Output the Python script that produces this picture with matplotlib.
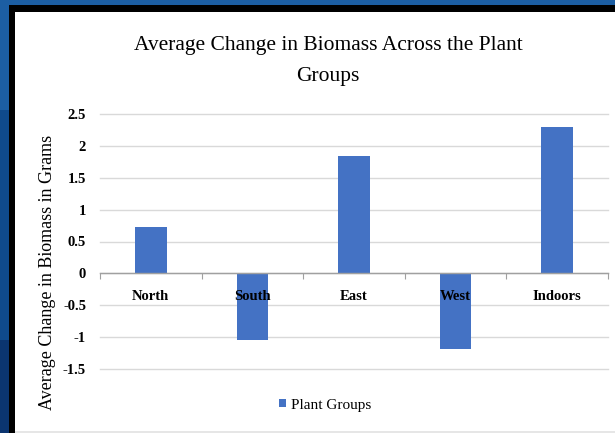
import matplotlib
matplotlib.use("Agg")
import matplotlib.pyplot as plt
from matplotlib.patches import Rectangle
import numpy as np

categories = ["North", "South", "East", "West", "Indoors"]
values = [0.72, -1.05, 1.84, -1.19, 2.30]
yticks = [-1.5, -1, -0.5, 0, 0.5, 1, 1.5, 2, 2.5]
ytick_labels = ["-1.5", "-1", "-0.5", "0", "0.5", "1", "1.5", "2", "2.5"]
title = "Average Change in Biomass Across the Plant\nGroups"
ylabel = "Average Change in Biomass in Grams"
legend_label = "Plant Groups"

W, H = 615, 433
fig = plt.figure(figsize=(W / 100, H / 100), dpi=100)
fig.patch.set_facecolor("#1c5ea3")

def px_rect(x0, y0, x1, y1, color, z):
    fig.patches.append(Rectangle((x0 / W, 1 - y1 / H), (x1 - x0) / W, (y1 - y0) / H,
                                 transform=fig.transFigure, facecolor=color,
                                 edgecolor="none", zorder=z))

px_rect(0, 110, 9, H, "#0f4a8c", -5)
px_rect(0, 340, 9, H, "#0b3570", -5)
px_rect(9, 5, W, H, "#000000", -5)
px_rect(15, 12, W, H, "#ffffff", -5)
px_rect(15, 431, W, H, "#e6e6e6", -5)

serif = ["Liberation Serif", "DejaVu Serif"]

ax = fig.add_axes([100 / W, 1 - 369 / H, (608 - 100) / W, (369 - 114) / H])
ax.set_zorder(5)
ax.set_facecolor("none")

x = np.arange(len(categories))
ax.bar(x, values, width=0.31, color="#4472c4", zorder=2, label=legend_label)

ax.set_xlim(-0.5, len(categories) - 0.5)
ax.set_ylim(-1.5, 2.5)
ax.set_yticks(yticks)
ax.set_yticklabels(ytick_labels, family=serif, fontsize=10.5, fontweight="bold")
ax.grid(axis="y", color="#d9d9d9", linewidth=1.0)
ax.yaxis.set_zorder(0.5)
for gl in ax.get_ygridlines():
    gl.set_clip_on(False)
ax.tick_params(axis="y", length=0, pad=10)

for s in ["top", "right", "left"]:
    ax.spines[s].set_visible(False)
ax.spines["bottom"].set_position(("data", 0))
ax.spines["bottom"].set_color("#a0a0a0")
ax.spines["bottom"].set_linewidth(1.0)
ax.spines["bottom"].set_zorder(3)

ax.set_xticks(np.arange(-0.5, len(categories), 1.0))
ax.set_xticklabels([])
ax.tick_params(axis="x", which="major", length=4, color="#a0a0a0", direction="out")
ax.set_xticks(x, minor=True)
ax.set_xticklabels(categories, minor=True, family=serif, fontsize=10.5, fontweight="bold")
ax.tick_params(axis="x", which="minor", length=0, pad=12)
ax.xaxis.set_zorder(4)

fig.text(328 / W, 1 - 61 / H, title, ha="center", va="center", family=serif,
         fontsize=15.5, linespacing=1.8)
fig.text(48 / W, 1 - 272 / H, ylabel, ha="center", va="center", rotation=90,
         family=serif, fontsize=13)

leg = ax.legend(loc="center", bbox_to_anchor=(325 / W, 1 - 405 / H),
                bbox_transform=fig.transFigure, frameon=False,
                prop={"family": serif, "size": 11},
                handlelength=0.5, handleheight=0.5, handletextpad=0.3)

fig.savefig("out.png", dpi=100, facecolor=fig.get_facecolor())
